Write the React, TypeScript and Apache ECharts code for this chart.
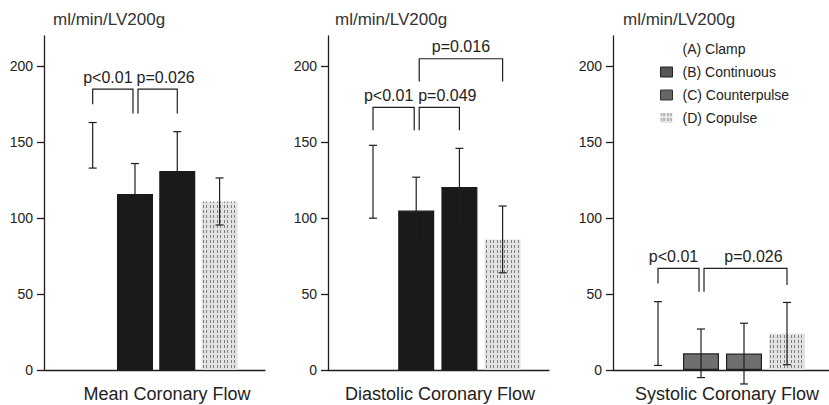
import React, { useEffect, useRef } from "react";
import * as echarts from "echarts";

const groups = ["(A) Clamp", "(B) Continuous", "(C) Counterpulse", "(D) Copulse"];
const yTicks = [0, 50, 100, 150, 200];
const unitLabel = "ml/min/LV200g";
const panelTitles = ["Mean Coronary Flow", "Diastolic Coronary Flow", "Systolic Coronary Flow"];

// mean and SD per group (A, B, C, D)
const meanFlow = [148, 116, 131, 111];
const meanFlowSD = [15, 20, 26, 15.5];
const diastolicFlow = [124, 105, 120.5, 86];
const diastolicFlowSD = [24, 22, 25.5, 22];
const systolicFlow = [24, 11, 10.8, 24];
const systolicFlowSD = [21, 16, 20, 20.5];

// brackets: [fromGroup, toGroup, top, leftLegEnd, rightLegEnd]
const meanBrackets = [
  [0, 1, 185, 175, 169],
  [1, 2, 185, 169, 169],
];
const meanPLabels = ["p<0.01", "p=0.026"];
const diastolicBrackets = [
  [0, 1, 173, 158, 158],
  [1, 2, 173, 158, 158],
  [1, 3, 205, 190, 190],
];
const diastolicPLabels = ["p<0.01", "p=0.049", "p=0.016"];
const systolicBrackets = [
  [0, 1, 67, 57, 51.5],
  [1, 3, 67, 51.5, 56],
];
const systolicPLabels = ["p<0.01", "p=0.026"];

const INK = "#1e1e1e";

const panels = [
  { values: meanFlow, sd: meanFlowSD, brackets: meanBrackets, labels: meanPLabels, title: panelTitles[0], left: 44, width: 221, xmin: -1.151, xmax: 4.074, titleX: 167, unitX: 53, dark: "#1a1a1a", darkBorder: "#1a1a1a" },
  { values: diastolicFlow, sd: diastolicFlowSD, brackets: diastolicBrackets, labels: diastolicPLabels, title: panelTitles[1], left: 328, width: 221, xmin: -1.042, xmax: 4.074, titleX: 440, unitX: 335, dark: "#1a1a1a", darkBorder: "#1a1a1a" },
  { values: systolicFlow, sd: systolicFlowSD, brackets: systolicBrackets, labels: systolicPLabels, title: panelTitles[2], left: 613, width: 216, xmin: -1.047, xmax: 3.977, titleX: 727, unitX: 623, dark: "#6f6f6f", darkBorder: "#222" },
];

const dottedDecal = {
  symbol: "rect",
  symbolSize: 1,
  dashArrayX: [[1, 2, 1, 3]],
  dashArrayY: [3, 2],
  color: "rgba(60,60,60,0.6)",
};

export default function App() {
  const ref = useRef<HTMLDivElement>(null);
  useEffect(() => {
    document.body.style.margin = "0";
    const chart = echarts.init(ref.current!, null, { renderer: "svg" });
    const grid: any[] = [];
    const xAxis: any[] = [];
    const yAxis: any[] = [];
    const series: any[] = [];
    const title: any[] = [];

    panels.forEach((p, pi) => {
      grid.push({ left: p.left, top: 36, width: p.width, height: 334 });
      xAxis.push({
        gridIndex: pi, type: "value", min: p.xmin, max: p.xmax,
        axisLine: { show: true, onZero: false, lineStyle: { color: INK, width: 1.3 } },
        axisTick: { show: false }, axisLabel: { show: false }, splitLine: { show: false },
      });
      yAxis.push({
        gridIndex: pi, type: "value", min: 0, max: 220,
        axisLine: { show: true, onZero: false, lineStyle: { color: INK, width: 1.3 } },
        axisTick: { show: true, length: 7, customValues: yTicks, lineStyle: { color: INK, width: 1.3 } },
        axisLabel: { customValues: yTicks, margin: 11, fontSize: 14, color: "#222", fontFamily: "Liberation Sans, Arial" },
        splitLine: { show: false },
      });
      title.push({
        text: p.title,
        left: p.titleX, top: 383, textAlign: "center", padding: 0,
        textStyle: { fontSize: 18, lineHeight: 21, fontWeight: "normal", color: "#222", fontFamily: "Liberation Sans, Arial" },
      });
      title.push({
        text: unitLabel, left: p.unitX, top: 11, padding: 0,
        textStyle: { fontSize: 17, fontWeight: "normal", color: "#333", fontFamily: "Liberation Sans, Arial" },
      });
      groups.forEach((g, gi) => {
        const style: any =
          gi === 0 ? { color: "rgba(255,255,255,0)" }
          : gi === 3 ? { color: "#e2e2e2", decal: dottedDecal }
          : { color: p.dark, borderColor: p.darkBorder, borderWidth: 1.2 };
        series.push({
          type: "bar", name: g, xAxisIndex: pi, yAxisIndex: pi,
          data: [[gi, p.values[gi]]], barWidth: 36, barGap: "-100%",
          itemStyle: style,
        });
      });
      // error bars (mean ± SD)
      series.push({
        type: "custom", xAxisIndex: pi, yAxisIndex: pi, z: 5, clip: false,
        data: p.values.map((v, gi) => [gi, v, p.sd[gi]]),
        renderItem: (params: any, api: any) => {
          const x = api.value(0), m = api.value(1), s = api.value(2);
          const t = api.coord([x, m + s]);
          const b = api.coord([x, m - s]);
          const st = { stroke: INK, lineWidth: 1.2 };
          return {
            type: "group",
            children: [
              { type: "line", shape: { x1: t[0], y1: t[1], x2: b[0], y2: b[1] }, style: st },
              { type: "line", shape: { x1: t[0] - 4, y1: t[1], x2: t[0] + 4, y2: t[1] }, style: st },
              { type: "line", shape: { x1: b[0] - 4, y1: b[1], x2: b[0] + 4, y2: b[1] }, style: st },
            ],
          };
        },
      });
      // significance brackets
      const br = p.brackets;
      series.push({
        type: "custom", xAxisIndex: pi, yAxisIndex: pi, z: 6, clip: false,
        data: br.map((b) => [b[0], b[2]]),
        renderItem: (params: any, api: any) => {
          const k = params.dataIndex;
          const [i, j, top, ll, rl] = br[k];
          const shareLeft = br.some((o, n) => n !== k && o[1] === i);
          const shareRight = br.some((o, n) => n !== k && o[0] === j && o[2] === top);
          const sameTopEndsAtI = br.some((o, n) => n !== k && o[1] === i && o[2] === top);
          const lx = api.coord([i, top])[0] + (shareLeft ? 3 : 0);
          const rx = api.coord([j, top])[0] - (shareRight ? 2 : 0);
          const ty = api.coord([i, top])[1];
          const ly = api.coord([i, ll])[1];
          const ry = api.coord([j, rl])[1];
          const shift = shareRight ? -5 : sameTopEndsAtI ? 8 : 0;
          return {
            type: "group",
            children: [
              { type: "polyline", shape: { points: [[lx, ly], [lx, ty], [rx, ty], [rx, ry]] }, style: { stroke: INK, lineWidth: 1.2, fill: null } },
              {
                type: "text", x: (lx + rx) / 2 + shift, y: ty - 4,
                style: { text: p.labels[k], fontSize: 16, fill: "#222", align: "center", verticalAlign: "bottom", fontFamily: "Liberation Sans, Arial" },
              },
            ],
          };
        },
      });
    });

    chart.setOption({
      animation: false,
      backgroundColor: "#fff",
      title,
      grid,
      xAxis,
      yAxis,
      legend: {
        orient: "vertical", left: 660, top: 42, padding: 0, itemWidth: 12, itemHeight: 10, itemGap: 9,
        selectedMode: false,
        textStyle: { fontSize: 14, color: "#222", lineHeight: 14, padding: [0, 0, 0, 5], fontFamily: "Liberation Sans, Arial" },
        data: [
          { name: groups[0], icon: "rect", itemStyle: { color: "rgba(255,255,255,0)", borderWidth: 0 } },
          { name: groups[1], icon: "rect", itemStyle: { color: "#555", borderColor: "#222", borderWidth: 1 } },
          { name: groups[2], icon: "rect", itemStyle: { color: "#666", borderColor: "#333", borderWidth: 1 } },
          { name: groups[3], icon: "rect", itemStyle: { color: "#e6e6e6", borderWidth: 0, decal: dottedDecal } },
        ],
      },
      series,
    });
    return () => chart.dispose();
  }, []);
  return <div ref={ref} style={{ width: 829, height: 405, position: "absolute", left: 0, top: 0 }} />;
}
